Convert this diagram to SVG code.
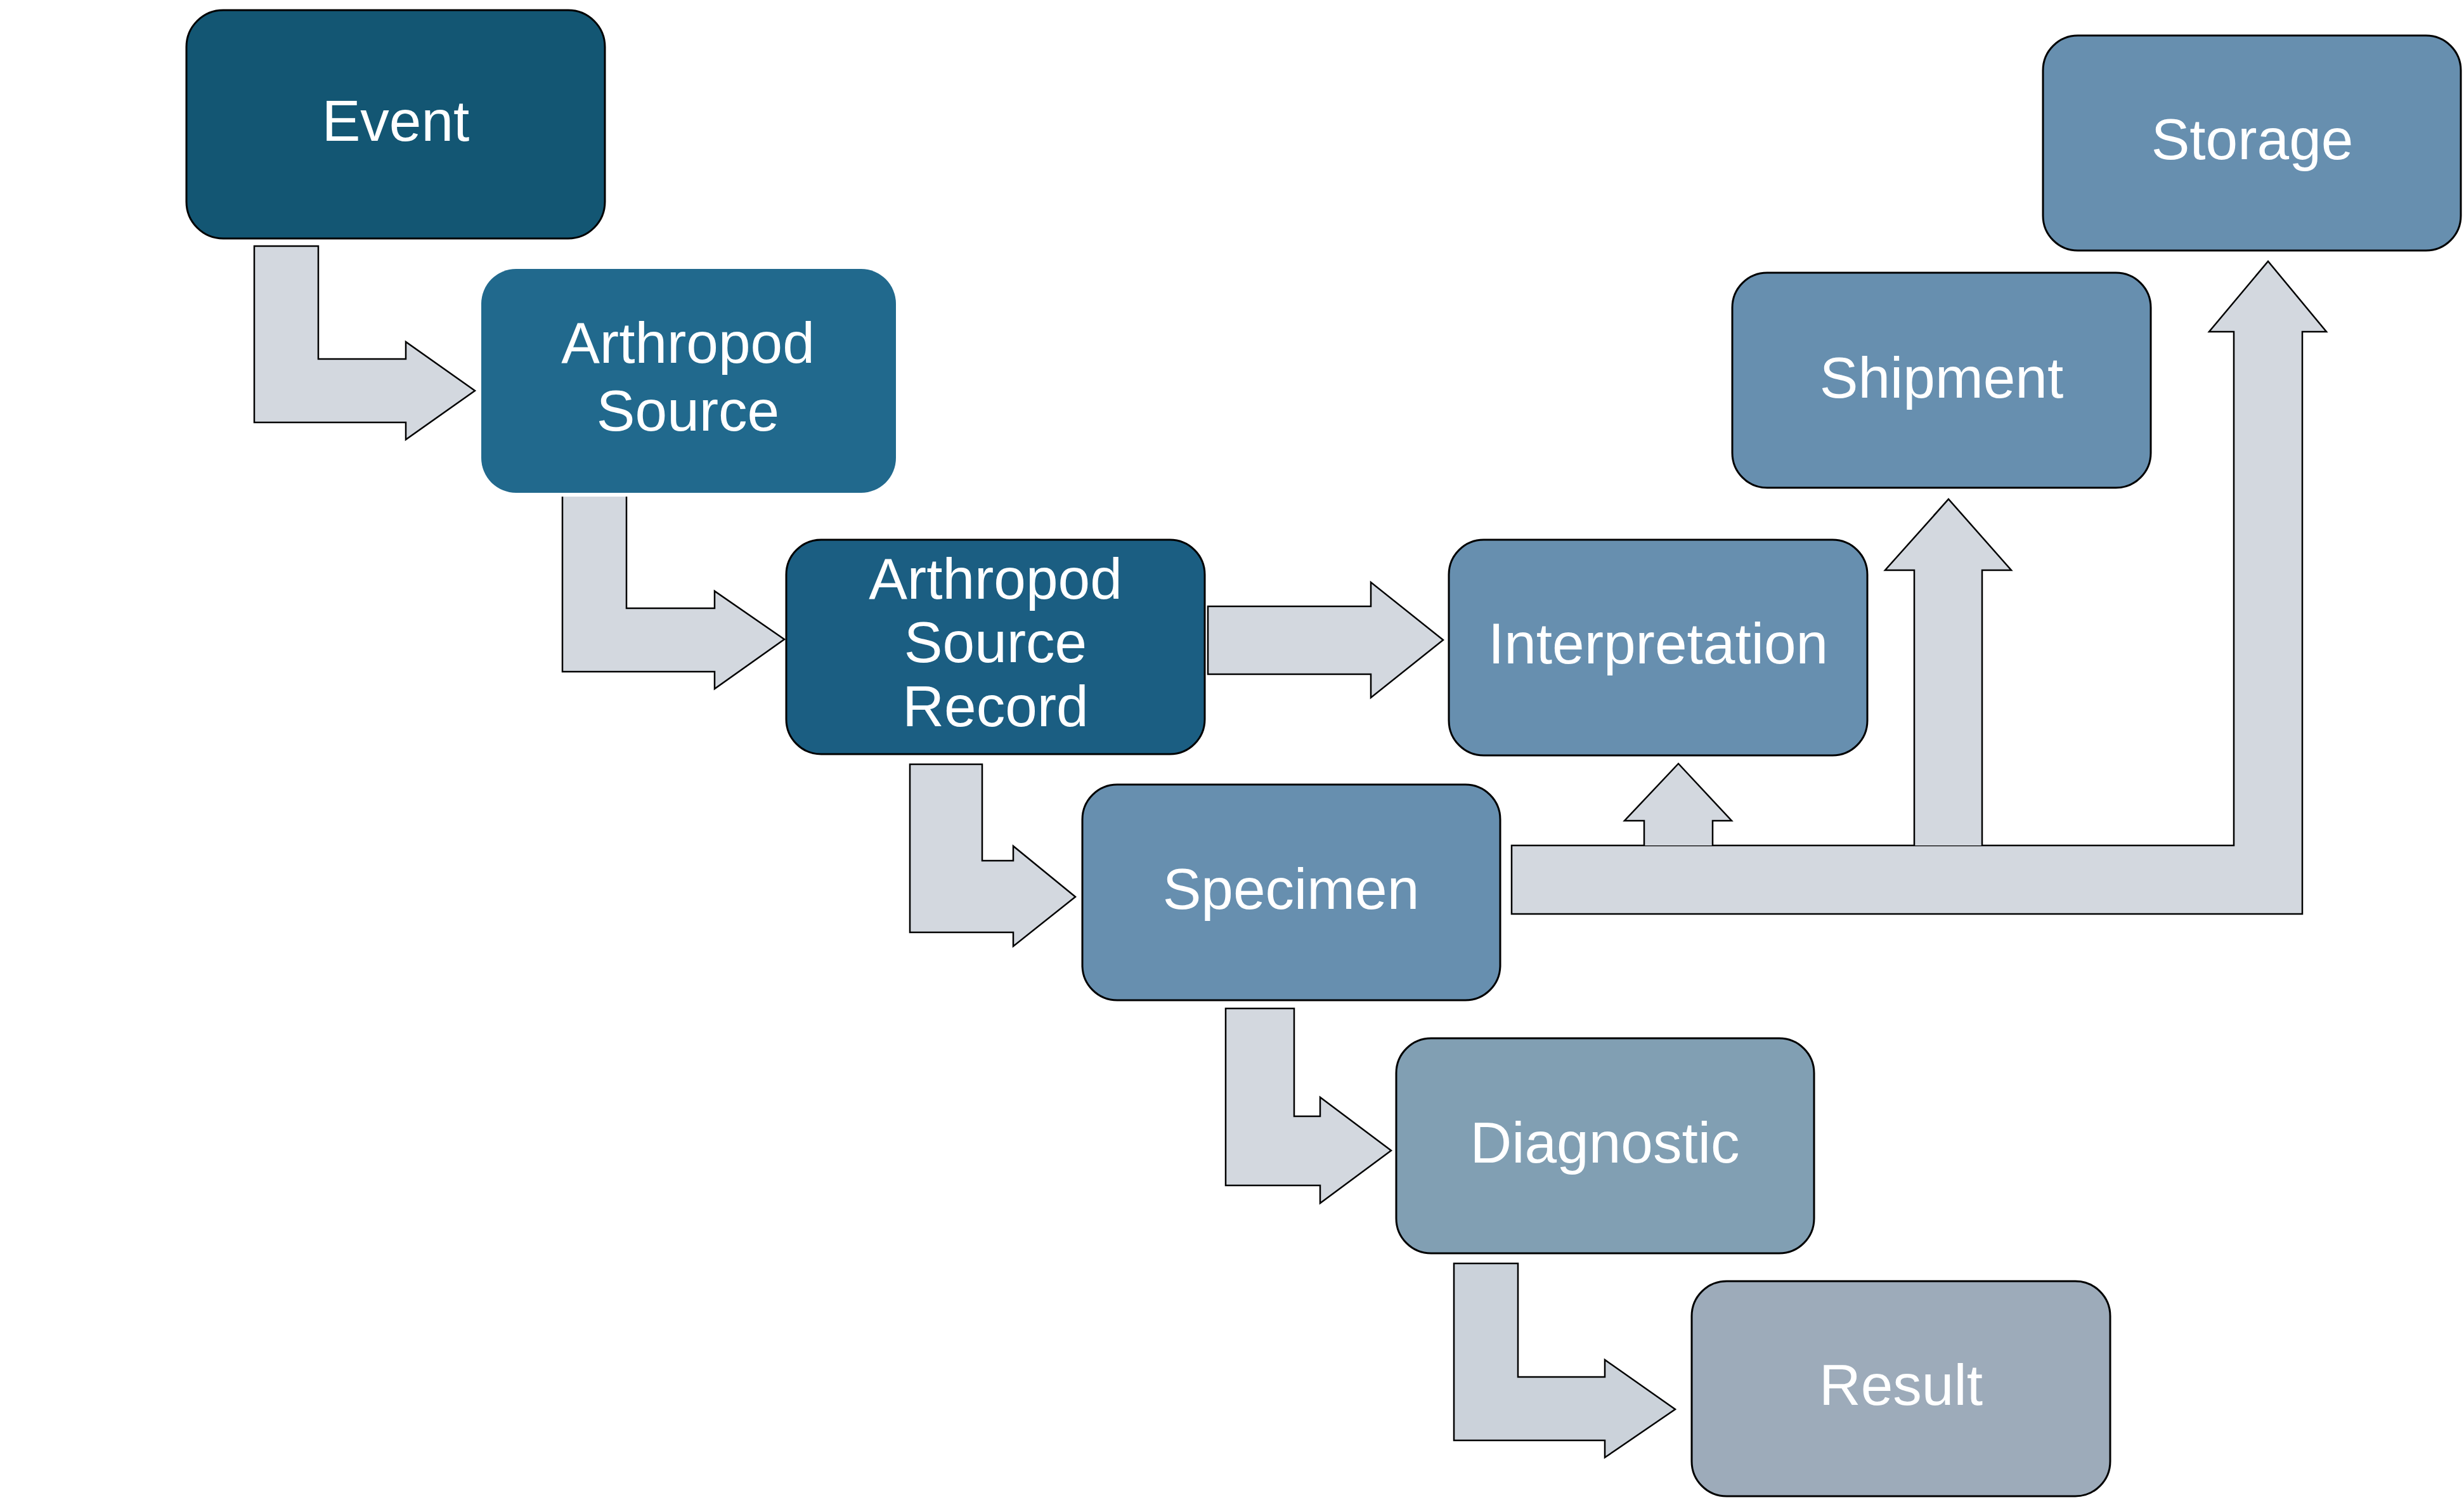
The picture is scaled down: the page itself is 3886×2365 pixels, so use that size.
<svg xmlns="http://www.w3.org/2000/svg" width="3886" height="2365" viewBox="0 0 3886 2365">
<style>
.box{stroke:#000;stroke-width:3}
.nb{stroke:none}
.lbl{font-family:"Liberation Sans",Arial,sans-serif;font-size:91px;fill:#fff;text-anchor:middle}
.arr{fill:#D3D8DF;stroke:#000;stroke-width:2.5;stroke-linejoin:miter}
</style>
<rect width="3886" height="2365" fill="#fff"/>
<g id="connectors">
<path class="arr" d="M401,388 L502,388 L502,566 L640,566 L640,539 L749,616 L640,693 L640,666 L401,666 Z"/>
<path class="arr" d="M988,783 L988,959 L1127,959 L1127,932 L1237,1008 L1127,1086 L1127,1059 L887,1059 L887,783"/>
<path class="arr" d="M1905,956 L2162,956 L2162,918 L2276,1009 L2162,1100 L2162,1063 L1905,1063 Z"/>
<path class="arr" d="M1435,1205 L1549,1205 L1549,1357 L1598,1357 L1598,1334 L1696,1414 L1598,1492 L1598,1470 L1435,1470 Z"/>
<path class="arr" d="M1933,1590 L2041,1590 L2041,1760 L2082,1760 L2082,1730 L2194,1814 L2082,1897 L2082,1869 L1933,1869 Z"/>
<path class="arr" style="fill:#CBD2DA" d="M2293,1992 L2394,1992 L2394,2171 L2531,2171 L2531,2144 L2642,2222 L2531,2298 L2531,2271 L2293,2271 Z"/>
<path class="arr" d="M2384,1333 L3523,1333 L3523,523 L3484,523 L3577,412 L3669,523 L3631,523 L3631,1441 L2384,1441 Z"/>
<path class="arr" d="M2593,1333 L2593,1294 L2562,1294 L2647,1204 L2731,1294 L2701,1294 L2701,1333"/>
<path class="arr" d="M3019,1333 L3019,899 L2973,899 L3073,787 L3172,899 L3126,899 L3126,1333"/>
</g>
<g id="event">
<rect class="box" x="294" y="16" width="660" height="360" rx="58" fill="#135673"/>
<text class="lbl" x="624" y="222">Event</text>
</g>
<g id="arthropod-source">
<rect class="nb" x="759" y="424" width="654" height="353" rx="55" fill="#21698D"/>
<text class="lbl" x="1085" y="572">Arthropod</text>
<text class="lbl" x="1085" y="679">Source</text>
</g>
<g id="arthropod-source-record">
<rect class="box" x="1240" y="851" width="660" height="338" rx="55" fill="#1B5E82"/>
<text class="lbl" x="1570" y="944">Arthropod</text>
<text class="lbl" x="1570" y="1044">Source</text>
<text class="lbl" x="1570" y="1145">Record</text>
</g>
<g id="interpretation">
<rect class="box" x="2285" y="851" width="660" height="340" rx="55" fill="#678FAF"/>
<text class="lbl" x="2615" y="1046">Interpretation</text>
</g>
<g id="specimen">
<rect class="box" x="1707" y="1237" width="659" height="340" rx="55" fill="#678FAF"/>
<text class="lbl" x="2036" y="1433">Specimen</text>
</g>
<g id="shipment">
<rect class="box" x="2732" y="430" width="660" height="339" rx="55" fill="#678FAF"/>
<text class="lbl" x="3062" y="627">Shipment</text>
</g>
<g id="storage">
<rect class="box" x="3222" y="56" width="659" height="339" rx="55" fill="#678FAF"/>
<text class="lbl" x="3552" y="251">Storage</text>
</g>
<g id="diagnostic">
<rect class="box" x="2202" y="1637" width="659" height="339" rx="55" fill="#819FB3"/>
<text class="lbl" x="2531" y="1833">Diagnostic</text>
</g>
<g id="result">
<rect class="box" x="2668" y="2020" width="660" height="339" rx="55" fill="#9DABBA"/>
<text class="lbl" x="2998" y="2215">Result</text>
</g>
</svg>
